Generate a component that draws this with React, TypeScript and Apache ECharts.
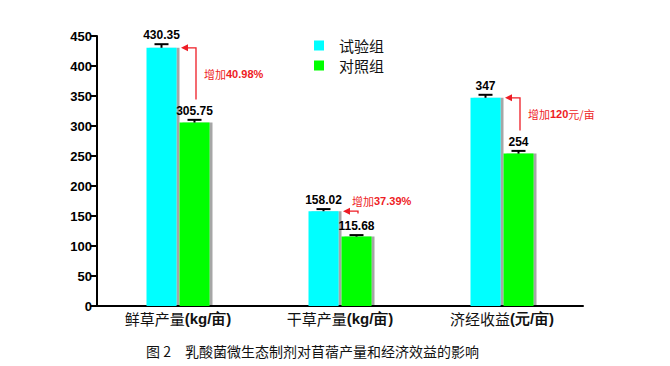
import React, { useEffect, useRef } from "react";
import * as echarts from "echarts";

const categories = ["鲜草产量", "干草产量", "济经收益"];
const categoryUnits = ["(kg/亩)", "(kg/亩)", "(元/亩)"];
const seriesNames = ["试验组", "对照组"];
const trialValues = [430.35, 158.02, 347];
const controlValues = [305.75, 115.68, 254];
const trialErrors = [6, 3.5, 5];
const controlErrors = [4.5, 2.5, 4.5];
const trialLabels = ["430.35", "158.02", "347"];
const controlLabels = ["305.75", "115.68", "254"];
const increaseValues = ["40.98%", "37.39%", "120"];
const increaseUnits = ["", "", "元/亩"];
const yTicks = { min: 0, max: 450, interval: 50 };
const caption = "图 2　乳酸菌微生态制剂对苜蓿产量和经济效益的影响";

const BAR_W = 30;
const BAR_GAP = 3;
const RED = "#ee1c25";
const CJK = '"Noto Sans CJK SC", "Noto Sans", sans-serif';
const ARIAL = '"Liberation Sans", Arial, sans-serif';

function errorSeries(values: number[], errors: number[], labels: string[], offset: number) {
  return {
    type: "custom",
    silent: true,
    z: 5,
    data: values.map((v, i) => [i, v, errors[i], labels[i]]),
    renderItem: (params: any, api: any) => {
      const idx = api.value(0);
      const v = api.value(1);
      const e = api.value(2);
      const top = api.coord([idx, v + e]);
      const base = api.coord([idx, v]);
      const x = base[0] + offset;
      const cap = 7;
      return {
        type: "group",
        children: [
          { type: "line", shape: { x1: x, y1: base[1], x2: x, y2: top[1] }, style: { stroke: "#000", lineWidth: 2 } },
          { type: "line", shape: { x1: x - cap, y1: top[1], x2: x + cap, y2: top[1] }, style: { stroke: "#000", lineWidth: 2 } },
          {
            type: "text",
            x,
            y: top[1] - 9,
            style: {
              text: labels[params.dataIndex],
              fill: "#000",
              font: `bold 12px ${ARIAL}`,
              align: "center",
              verticalAlign: "middle",
            },
          },
        ],
      };
    },
  };
}

const annotationSeries = {
  type: "custom",
  silent: true,
  z: 6,
  data: trialValues.map((v, i) => [i, v, controlValues[i]]),
  renderItem: (params: any, api: any) => {
    const i = params.dataIndex;
    const idx = api.value(0);
    const topPt = api.coord([idx, api.value(1)]);
    const lowPt = api.coord([idx, api.value(2)]);
    const c = topPt[0];
    const topY = topPt[1];
    const startY = lowPt[1] - 23;
    const lx = c + 18;
    const tall = startY - topY > 25;
    const tx = tall ? c + 26 : c + 12;
    const ty = tall ? (startY + topY) / 2 : topY - 10;
    return {
      type: "group",
      children: [
        {
          type: "polyline",
          shape: { points: [[lx, startY], [lx, topY], [c + 8, topY]] },
          style: { stroke: RED, lineWidth: 1.3, fill: "none" },
        },
        {
          type: "polygon",
          shape: { points: [[c + 3, topY], [c + 10, topY - 3.5], [c + 10, topY + 3.5]] },
          style: { fill: RED },
        },
        {
          type: "text",
          x: tx,
          y: ty,
          style: {
            text: `{a|增加}{b|${increaseValues[i]}}{a|${increaseUnits[i]}}`,
            verticalAlign: "middle",
            align: "left",
            rich: {
              a: { fill: RED, fontFamily: CJK, fontSize: 11 },
              b: { fill: RED, fontFamily: ARIAL, fontSize: 11, fontWeight: "bold" },
            },
          },
        },
      ],
    };
  },
};

export default function App() {
  const ref = useRef<HTMLDivElement>(null);
  useEffect(() => {
    if (!ref.current) return;
    const chart = echarts.init(ref.current, null, { renderer: "svg" });
    const barStyle = (color: string) => ({
      color,
      shadowColor: "rgba(0,0,0,0.35)",
      shadowOffsetX: 3,
      shadowOffsetY: 0,
      shadowBlur: 0,
    });
    chart.setOption({
      animation: false,
      backgroundColor: "#fff",
      grid: { left: 97, right: 87, top: 36, bottom: 60, containLabel: false },
      legend: {
        data: seriesNames,
        orient: "vertical",
        left: 309,
        top: 33,
        itemWidth: 10,
        itemHeight: 10,
        itemGap: 5,
        icon: "rect",
        textStyle: { fontFamily: CJK, fontSize: 15, lineHeight: 15, color: "#111", padding: [0, 0, 0, 10] },
      },
      xAxis: {
        type: "category",
        data: categories,
        axisTick: { show: false },
        axisLine: { lineStyle: { color: "#000", width: 2 } },
        axisLabel: {
          margin: 5,
          formatter: (v: string, i: number) => `{a|${v}}{b|${categoryUnits[i]}}`,
          rich: {
            a: { fontFamily: CJK, fontSize: 15, color: "#111" },
            b: { fontFamily: ARIAL, fontSize: 15, fontWeight: "bold", color: "#111" },
          },
        },
      },
      yAxis: {
        type: "value",
        min: yTicks.min,
        max: yTicks.max,
        interval: yTicks.interval,
        axisLine: { show: true, lineStyle: { color: "#000", width: 2 } },
        axisTick: { show: true, length: 7, lineStyle: { color: "#000", width: 2 } },
        splitLine: { show: false },
        axisLabel: { fontFamily: ARIAL, fontSize: 13, fontWeight: "bold", color: "#000", margin: 5 },
      },
      series: [
        {
          name: seriesNames[0],
          type: "bar",
          data: trialValues,
          barWidth: BAR_W,
          barGap: `${(BAR_GAP / BAR_W) * 100}%`,
          itemStyle: barStyle("#00ffff"),
        },
        {
          name: seriesNames[1],
          type: "bar",
          data: controlValues,
          barWidth: BAR_W,
          itemStyle: barStyle("#00ff00"),
        },
        errorSeries(trialValues, trialErrors, trialLabels, -(BAR_W + BAR_GAP) / 2),
        errorSeries(controlValues, controlErrors, controlLabels, (BAR_W + BAR_GAP) / 2),
        annotationSeries,
      ],
      graphic: [
        {
          type: "text",
          left: 146,
          top: 344,
          style: { text: caption, fontFamily: CJK, fontSize: 14, fill: "#111" },
        },
      ],
    });
    return () => chart.dispose();
  }, []);
  return <div ref={ref} style={{ position: "fixed", left: 0, top: 0, width: 670, height: 366 }} />;
}
